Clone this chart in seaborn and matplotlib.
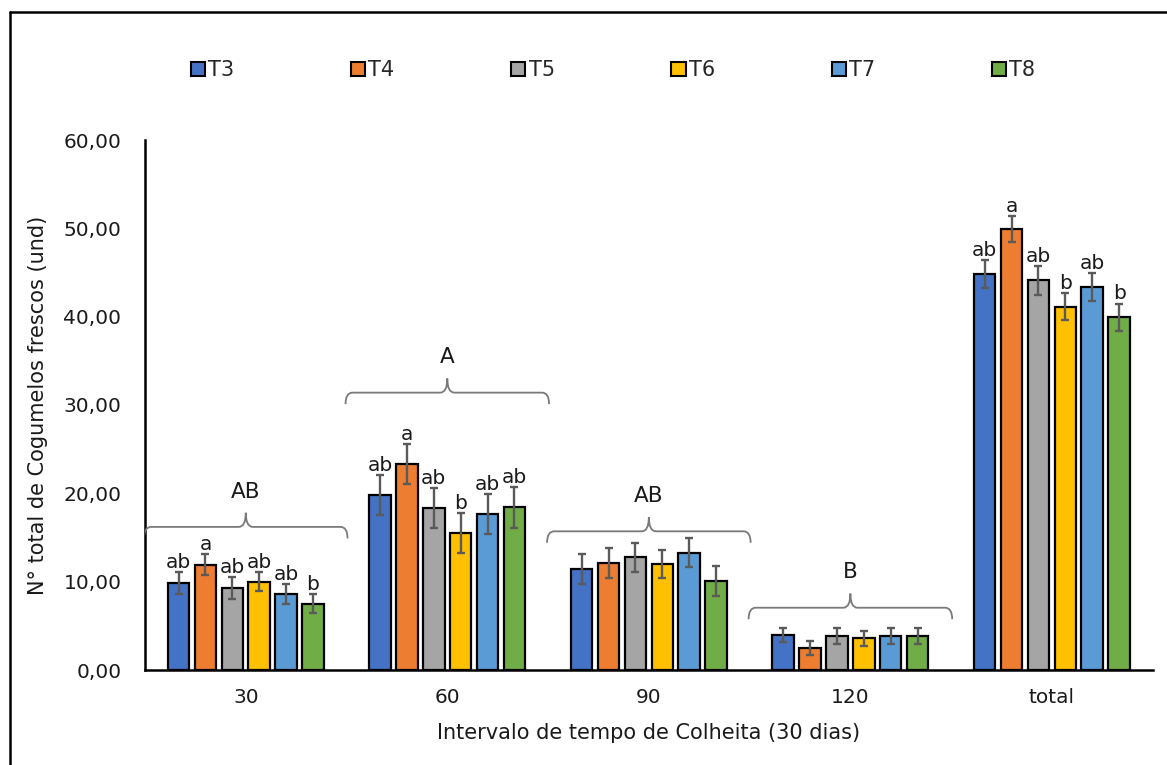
import numpy as np
import pandas as pd
import matplotlib
matplotlib.use("Agg")
import matplotlib.pyplot as plt
from matplotlib.path import Path
from matplotlib.patches import PathPatch, Patch
from matplotlib.lines import Line2D
from matplotlib.ticker import FuncFormatter, MultipleLocator
import seaborn as sns

# ---------------- data ----------------
categories = ["30", "60", "90", "120", "total"]
treatments = ["T3", "T4", "T5", "T6", "T7", "T8"]

mean_T3 = [9.85, 19.8, 11.4, 3.95, 44.85]
mean_T4 = [11.9, 23.3, 12.1, 2.45, 49.9]
mean_T5 = [9.25, 18.3, 12.75, 3.85, 44.1]
mean_T6 = [10.0, 15.55, 12.0, 3.6, 41.15]
mean_T7 = [8.6, 17.65, 13.25, 3.85, 43.4]
mean_T8 = [7.5, 18.4, 10.1, 3.85, 39.95]

err_T3 = [1.25, 2.27, 1.7, 0.8, 1.57]
err_T4 = [1.2, 2.25, 1.7, 0.8, 1.5]
err_T5 = [1.25, 2.26, 1.66, 0.85, 1.6]
err_T6 = [1.1, 2.26, 1.64, 0.87, 1.55]
err_T7 = [1.1, 2.26, 1.64, 0.85, 1.58]
err_T8 = [1.1, 2.3, 1.68, 0.85, 1.53]

letters_T3 = ["ab", "ab", "", "", "ab"]
letters_T4 = ["a", "a", "", "", "a"]
letters_T5 = ["ab", "ab", "", "", "ab"]
letters_T6 = ["ab", "b", "", "", "b"]
letters_T7 = ["ab", "ab", "", "", "ab"]
letters_T8 = ["b", "ab", "", "", "b"]

group_labels = ["AB", "A", "AB", "B"]
brace_y = [16.2, 31.4, 15.7, 7.05]

colors = ["#4472C4", "#ED7D31", "#A5A5A5", "#FFC000", "#5B9BD5", "#70AD47"]

means = [mean_T3, mean_T4, mean_T5, mean_T6, mean_T7, mean_T8]
errs = [err_T3, err_T4, err_T5, err_T6, err_T7, err_T8]
letters = [letters_T3, letters_T4, letters_T5, letters_T6, letters_T7, letters_T8]

rows = []
for t, m in zip(treatments, means):
    for c, v in zip(categories, m):
        rows.append({"Intervalo": c, "Tratamento": t, "valor": v})
df = pd.DataFrame(rows)

# ---------------- figure ----------------
sns.set_theme(style="white")
plt.rcParams["font.family"] = ["DejaVu Sans"]

TXT = "#1a1a1a"
fig = plt.figure(figsize=(11.67, 7.65), dpi=100)
ax = fig.add_axes([145 / 1167, 1 - 670 / 765, (1152.7 - 145) / 1167, 530 / 765])

sns.barplot(data=df, x="Intervalo", y="valor", hue="Tratamento",
            order=categories, hue_order=treatments, palette=colors, saturation=1,
            errorbar=None, width=0.8, gap=0.2, edgecolor="black",
            linewidth=1.6, legend=False, ax=ax, zorder=2)

# error bars and letters from bar geometry
for cont, e_list, l_list in zip(ax.containers, errs, letters):
    for bar, e, lab in zip(cont.patches, e_list, l_list):
        xc = bar.get_x() + bar.get_width() / 2
        h = bar.get_height()
        ax.errorbar(xc, h, yerr=e, fmt="none", ecolor="#5a5a5a",
                    elinewidth=1.7, capsize=3.0, capthick=1.7, zorder=3)
        if lab:
            ax.annotate(lab, (xc, h + e), xytext=(0, 3), textcoords="offset points",
                        ha="center", va="baseline", fontsize=14.5, color=TXT)

# braces over groups
def brace(ax, xc, y, hw=0.505, tip=1.6, drop=1.3, r=0.035, color="#7a7a7a"):
    x0, x1 = xc - hw, xc + hw
    verts = [(x0, y - drop), (x0, y), (x0 + r, y),
             (xc - r, y), (xc, y), (xc, y + tip),
             (xc, y + tip), (xc, y), (xc + r, y),
             (x1 - r, y), (x1, y), (x1, y - drop)]
    codes = [Path.MOVETO, Path.CURVE3, Path.CURVE3,
             Path.LINETO, Path.CURVE3, Path.CURVE3,
             Path.MOVETO, Path.CURVE3, Path.CURVE3,
             Path.LINETO, Path.CURVE3, Path.CURVE3]
    ax.add_patch(PathPatch(Path(verts, codes), fill=False, edgecolor=color,
                           linewidth=1.3, zorder=4))

for i, (lab, yb) in enumerate(zip(group_labels, brace_y)):
    brace(ax, i, yb)
    ax.text(i, yb + 4.0, lab, ha="center", va="center", fontsize=15.5, color=TXT)

# axes styling
ax.set_ylim(0, 60)
ax.set_xlim(-0.5, 4.5)
ax.yaxis.set_major_locator(MultipleLocator(10))
ax.yaxis.set_major_formatter(FuncFormatter(lambda v, p: f"{v:.2f}".replace(".", ",")))
ax.tick_params(axis="both", length=0, labelsize=14.5, labelcolor=TXT)
ax.tick_params(axis="y", pad=17)
ax.tick_params(axis="x", pad=13)
for s in ["top", "right"]:
    ax.spines[s].set_visible(False)
for s in ["left", "bottom"]:
    ax.spines[s].set_color("black")
    ax.spines[s].set_linewidth(1.8)
ax.set_facecolor("white")
ax.grid(False)

ax.set_xlabel("Intervalo de tempo de Colheita (30 dias)", fontsize=15, color=TXT)
ax.set_ylabel("N° total de Cogumelos frescos (und)", fontsize=15, color=TXT)
ax.xaxis.set_label_coords(0.5, -0.1)
ax.yaxis.set_label_coords(-0.096, 0.5)

# legend
handles = [Patch(facecolor=c, edgecolor="black", linewidth=1.5, label=t)
           for c, t in zip(colors, treatments)]
fig.legend(handles=handles, loc="center", bbox_to_anchor=(613 / 1167, 1 - 70 / 765),
           ncol=6, frameon=False, fontsize=15, handlelength=0.68, handleheight=0.68,
           handletextpad=0.15, columnspacing=5.6)

# outer frame (left and top edges visible)
fig.add_artist(Line2D([10 / 1167, 10 / 1167], [0, 1 - 12 / 765], transform=fig.transFigure,
                      color="black", linewidth=1.8))
fig.add_artist(Line2D([10 / 1167, 1], [1 - 12 / 765, 1 - 12 / 765], transform=fig.transFigure,
                      color="black", linewidth=1.8))

fig.savefig("out.png", dpi=100, facecolor="white")
